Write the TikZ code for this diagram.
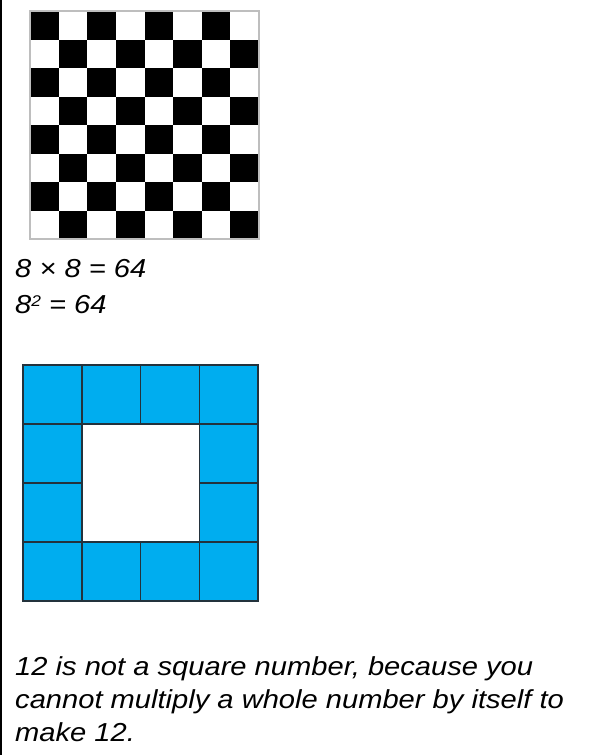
\documentclass[tikz,border=0pt]{standalone}
\usepackage{fontspec}
\setmainfont{Liberation Sans}[FakeStretch=1.12]
\definecolor{cellblue}{RGB}{0,173,239}
\definecolor{gridline}{RGB}{35,50,60}
\definecolor{boardedge}{RGB}{190,190,190}
\newcommand{\supsmall}[1]{\raisebox{7pt}{\fontsize{15.5pt}{15.5pt}\selectfont #1}}
\begin{document}
\begin{tikzpicture}[x=1pt,y=-1pt,
  txt/.style={anchor=base west,inner sep=0pt,font=\fontsize{26pt}{30pt}\selectfont\itshape},
  bluecell/.style={fill=cellblue,draw=gridline,line width=1.5pt},
  blacksq/.style={fill=black}]
\useasboundingbox (0,0) rectangle (601,755);
\fill[white] (0,0) rectangle (601,755);
% left border
\draw[line width=2pt] (1,0) -- (1,755);
% checkerboard
\foreach \i in {0,...,7}{
  \foreach \j in {0,...,7}{
    \pgfmathtruncatemacro\s{mod(\i+\j,2)}
    \ifnum\s=0
      \fill[blacksq] (30+\i*28.625,11+\j*28.5) rectangle ++(28.625,28.5);
    \fi
  }
}
\draw[boardedge,line width=1.2pt] (30,11) rectangle (259,239);
% text
\node[txt] (t1) at (15,277) {8 × 8 = 64};
\node[txt] (t2) at (15,313) {8\supsmall{2} = 64};
% blue ring
\foreach \i/\j in {0/0,1/0,2/0,3/0,0/1,3/1,0/2,3/2,0/3,1/3,2/3,3/3}{
  \draw[bluecell] (23+\i*58.75,365+\j*59) rectangle ++(58.75,59);
}
\node[txt] (b1) at (15,675) {12 is not a square number, because you};
\node[txt] (b2) at (15,708) {cannot multiply a whole number by itself to};
\node[txt] (b3) at (15,741) {make 12.};
\end{tikzpicture}
\end{document}
